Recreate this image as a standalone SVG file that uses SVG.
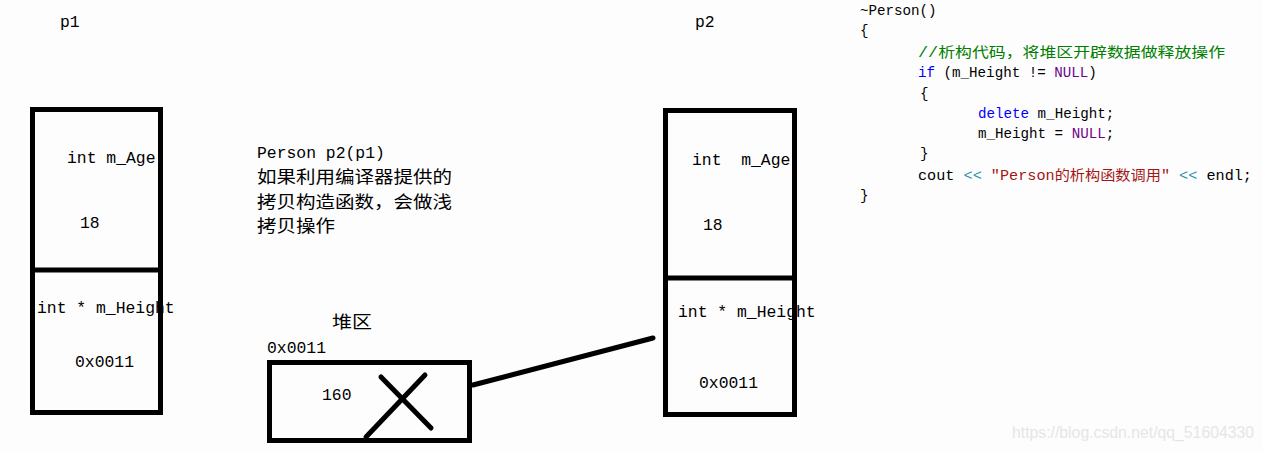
<svg xmlns="http://www.w3.org/2000/svg" width="1263" height="453" viewBox="0 0 1263 453">
<style>
.box{fill:none;stroke:#000;stroke-width:5}
.div{stroke:#000;stroke-width:5}
.t{font-family:"Liberation Mono","Noto Sans CJK SC",monospace;font-size:16.4px;fill:#000}
.cn{font-family:"Liberation Mono","Noto Sans CJK SC",monospace;font-size:17px;fill:#000}
.c{font-family:"Liberation Mono","Noto Sans CJK SC",monospace;font-size:14.2px;fill:#000}
.kw{fill:#0000ff}
.nl{fill:#6f008a}
.cm{fill:#008000}
.st{fill:#a31515}
.op{fill:#2b91af}
.wm{font-family:"Liberation Sans",Arial,sans-serif;font-size:16px;fill:#e6e6e6}
.line{stroke:#000;stroke-width:5;stroke-linecap:round}
</style>
<rect width="1263" height="453" fill="#fdfdfd"/>
<g id="p1">
<text class="t" x="60" y="27">p1</text>
<text class="t" x="67" y="163">int m_Age</text>
<text class="t" x="80" y="228">18</text>
<text class="t" x="37" y="313">int * m_Height</text>
<text class="t" x="75" y="367">0x0011</text>
<rect class="box" x="32.5" y="109.5" width="128" height="303"/>
<line class="div" x1="33" y1="270" x2="160" y2="270"/>
</g>
<g id="note">
<text class="t" x="257" y="158">Person p2(p1)</text>
<text class="cn" x="257" y="183" textLength="195" lengthAdjust="spacingAndGlyphs">如果利用编译器提供的</text>
<text class="cn" x="257" y="208" textLength="195" lengthAdjust="spacingAndGlyphs">拷贝构造函数，会做浅</text>
<text class="cn" x="257" y="232" textLength="78" lengthAdjust="spacingAndGlyphs">拷贝操作</text>
</g>
<g id="heap">
<text class="cn" x="332" y="328" textLength="40" lengthAdjust="spacingAndGlyphs">堆区</text>
<text class="t" x="267" y="353">0x0011</text>
<rect class="box" x="269.5" y="362.5" width="200" height="78"/>
<text class="t" x="322" y="400">160</text>
<line class="line" x1="366" y1="437" x2="425" y2="375"/>
<line class="line" x1="381" y1="377" x2="431" y2="428"/>
</g>
<g id="p2">
<text class="t" x="695" y="27">p2</text>
<text class="t" x="692" y="165" xml:space="preserve">int  m_Age</text>
<text class="t" x="703" y="230">18</text>
<text class="t" x="678" y="317">int * m_Height</text>
<text class="t" x="699" y="388">0x0011</text>
<rect class="box" x="665.5" y="110.5" width="129" height="304"/>
<line class="div" x1="666" y1="278" x2="794" y2="278"/>
</g>
<g id="connectors">
<line class="line" x1="473" y1="385" x2="653" y2="338"/>
</g>
<g id="code">
<text class="c" x="860" y="15">~Person()</text>
<text class="c" x="860" y="35">{</text>
<text class="c cm" x="918" y="57" textLength="307" lengthAdjust="spacingAndGlyphs">//析构代码，将堆区开辟数据做释放操作</text>
<text class="c" x="918" y="77" xml:space="preserve"><tspan class="kw">if</tspan> (m_Height != <tspan class="nl">NULL</tspan>)</text>
<text class="c" x="920" y="98">{</text>
<text class="c" x="978" y="118" xml:space="preserve"><tspan class="kw">delete</tspan> m_Height;</text>
<text class="c" x="978" y="138" xml:space="preserve">m_Height = <tspan class="nl">NULL</tspan>;</text>
<text class="c" x="920" y="158">}</text>
<text class="c" x="918" y="180" xml:space="preserve" textLength="334" lengthAdjust="spacingAndGlyphs">cout <tspan class="op">&lt;&lt;</tspan> <tspan class="st">"Person的析构函数调用"</tspan> <tspan class="op">&lt;&lt;</tspan> endl;</text>
<text class="c" x="860" y="200">}</text>
</g>
<text class="wm" x="1012" y="438" textLength="242" lengthAdjust="spacingAndGlyphs">https://blog.csdn.net/qq_51604330</text>
</svg>
